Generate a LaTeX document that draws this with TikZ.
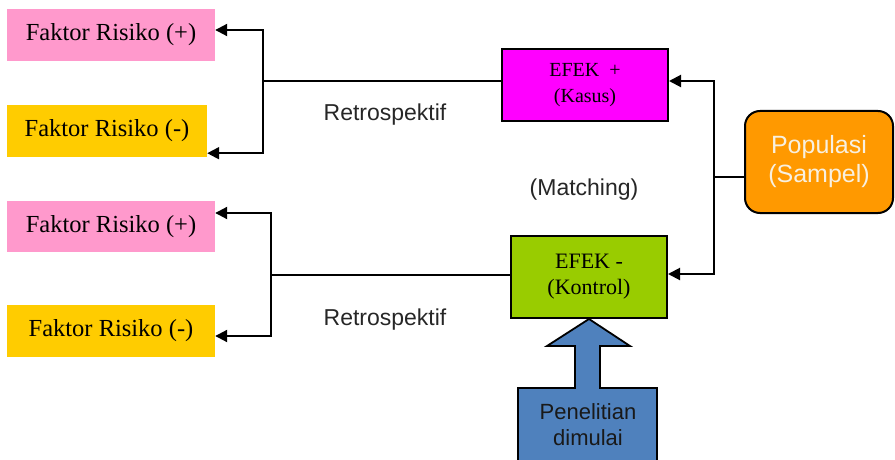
\documentclass[tikz,border=0pt]{standalone}
\usepackage{fontspec}
\setmainfont{Liberation Serif}
\setsansfont{Liberation Sans}
\usetikzlibrary{arrows.meta}

\definecolor{riskpos}{HTML}{FF99CC}
\definecolor{riskneg}{HTML}{FFCC00}
\definecolor{casebox}{HTML}{FF00FF}
\definecolor{ctrlbox}{HTML}{99CC00}
\definecolor{popbox}{HTML}{FF9900}
\definecolor{poptext}{HTML}{F8F0E0}
\definecolor{startbox}{HTML}{4F81BD}

\begin{document}
\begin{tikzpicture}[x=1pt,y=-1pt,
  factor/.style={inner sep=0pt, minimum height=52pt, align=center,
    font=\fontsize{24.5}{28}\selectfont},
  efekbox/.style={draw=black, line width=2pt, inner sep=0pt, align=center},
  conn/.style={line width=2pt, black},
  arr/.style={conn, -{Triangle[length=12pt,width=12pt]}},
  lbl/.style={font=\sffamily\fontsize{23}{26}\selectfont, text=black!85}
]
\useasboundingbox (0,0) rectangle (895,460);
\clip (0,0) rectangle (895,460);

% risk factor boxes
\node[factor, fill=riskpos, minimum width=208pt] (frp1) at (111,35) {Faktor Risiko (+)};
\node[factor, fill=riskneg, minimum width=200pt] (frm1) at (107,131) {Faktor Risiko (-)};
\node[factor, fill=riskpos, minimum width=208pt, minimum height=51pt] (frp2) at (111,226.5) {Faktor Risiko (+)};
\node[factor, fill=riskneg, minimum width=208pt] (frm2) at (111,331) {Faktor Risiko (-)};

% effect groups
\node[efekbox, fill=casebox, minimum width=166pt, minimum height=72pt,
      font=\fontsize{20}{26}\selectfont] (efekp) at (585,85) {EFEK\ \ +\\(Kasus)};
\node[efekbox, fill=ctrlbox, minimum width=156pt, minimum height=82pt,
      font=\fontsize{22}{26}\selectfont] (efekm) at (589,277) {EFEK -\\(Kontrol)};

% population
\node[draw=black, line width=2pt, fill=popbox, rounded corners=15pt,
      minimum width=148pt, minimum height=102pt, inner sep=0pt, align=center,
      text=poptext, font=\sffamily\fontsize{25}{29}\selectfont] (pop) at (819,162)
      {Populasi\\(Sampel)};

% labels
\node[lbl] (retro1) at (385,115) {Retrospektif};
\node[lbl] (retro2) at (385,320) {Retrospektif};
\node[lbl] (match) at (584,190) {(Matching)};

% junction points of the brackets
\coordinate (j1) at (263,81);
\coordinate (j2) at (271,275);
\coordinate (j3) at (714,177);

% retrospective brackets
\draw[conn] ([yshift=4pt]efekp.west) -- (j1);
\draw[arr] (j1) |- ([yshift=5pt]frp1.east);
\draw[arr] (j1) |- ([yshift=4pt]frm1.south east);

\draw[conn] ([yshift=2pt]efekm.west) -- (j2);
\draw[arr] (j2) |- ([yshift=13.5pt]frp2.east);
\draw[arr] (j2) |- ([yshift=-5pt]frm2.east);

% population to groups
\draw[conn] ([yshift=-15pt]pop.west) -- (j3);
\draw[arr] (j3) |- ([yshift=4pt]efekp.east);
\draw[arr] (j3) |- ([yshift=3pt]efekm.east);

% start of study: up-arrow callout
\filldraw[fill=startbox, draw=black, line width=1.8pt, line join=miter]
  (518,463) -- (518,388) -- (575,388) -- (575,346) -- (547,346) -- (efekm.south)
  -- (630,346) -- (600,346) -- (600,388) -- (657,388) -- (657,463);
\node[font=\sffamily\fontsize{22}{26}\selectfont, align=center, text=black!90]
  (start) at (588,425) {Penelitian\\dimulai};
\end{tikzpicture}
\end{document}
